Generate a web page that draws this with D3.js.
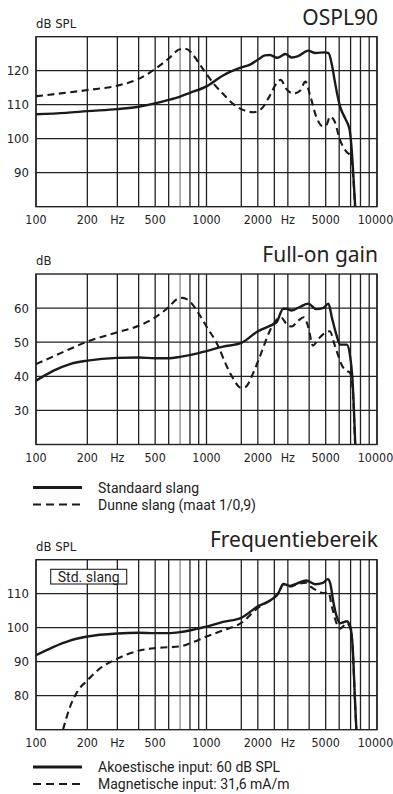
<!DOCTYPE html>
<html><head><meta charset="utf-8">
<script src="https://cdn.jsdelivr.net/npm/d3@7"></script>
<style>
html,body{margin:0;padding:0;background:#fff;}
svg{display:block;}
.tick{font-family:"Liberation Sans Narrow","Arial Narrow","DejaVu Sans Condensed",sans-serif;font-size:13px;fill:#222;}
.xt{font-size:12.4px;}
.title{font-family:"Noto Sans","Open Sans",sans-serif;font-size:21px;fill:#222;}
.leg{font-family:Roboto,"Noto Sans",sans-serif;font-size:14px;fill:#222;}
</style></head>
<body>
<svg id="c" width="393" height="794"></svg>
<script>
// ---- data ----
const xTickValues = [100,200,300,500,1000,2000,3000,5000,10000];
const xTickLabels = ["100","200","Hz","500","1000","2000","Hz","5000","10000"];
const extraGrid = [1600,2500];
const greyGrid = [700];

const osplTicks = [90,100,110,120];
const gainTicks = [30,40,50,60];
const freqTicks = [80,90,100,110];

const osplStd = [[100,107.2],[150,107.6],[200,108.1],[300,108.7],[400,109.4],[500,110.4],[600,111.4],[700,112.4],[800,113.5],[1000,115.4],[1250,118.6],[1570,120.8],[1800,121.8],[2000,123.2],[2200,124.5],[2350,124.6],[2600,123.8],[2900,124.9],[3150,123.9],[3450,124.3],[3950,125.9],[4350,125.2],[4950,125.4],[5200,125.2],[5450,121.5],[5650,117],[5850,113],[6070,109.5],[6500,106],[6900,102.8],[7100,97],[7250,90],[7430,81],[7520,76]];
const osplThin = [[100,112.5],[200,114.3],[300,115.6],[400,117.6],[500,120.5],[600,123.6],[700,126.3],[760,126.4],[820,125.2],[900,122.3],[1000,119],[1100,116.2],[1250,113.2],[1450,110],[1650,108.4],[1880,107.8],[2100,108.8],[2350,112.6],[2600,116.6],[2720,117.3],[2950,114.5],[3250,113.3],[3550,114.2],[3800,116.8],[4050,112.8],[4400,106.5],[4800,103.7],[5050,104],[5300,106.5],[5650,105],[6050,99.8],[6600,96.2],[7050,94.7],[7250,89],[7430,80],[7520,76]];

const gainStd = [[100,38.7],[126,41.6],[158,43.6],[200,44.6],[300,45.4],[400,45.5],[500,45.3],[600,45.3],[700,45.7],[900,46.8],[1000,47.4],[1250,48.7],[1600,49.8],[2000,53.2],[2350,54.8],[2570,55.8],[2820,59.8],[2950,59.8],[3160,59.3],[3540,60.4],[3950,61.3],[4400,59.7],[4820,60],[5190,61.3],[5450,57],[5800,51.9],[6070,49.3],[6650,49.3],[6950,46],[7160,40],[7300,32],[7430,22],[7500,17]];
const gainThin = [[100,43.6],[126,45.8],[158,48],[200,50.2],[300,52.9],[400,54.8],[500,57.3],[600,60.3],[670,62.6],[720,63],[760,62.7],[820,61.3],[900,58.4],[1000,54.6],[1170,48.9],[1310,43.1],[1440,39.2],[1580,36.7],[1680,36.8],[1880,41],[2100,47],[2350,53.3],[2600,56.8],[2750,57.2],[2950,55.3],[3160,54.6],[3450,56.3],[3720,57.3],[3950,54.5],[4210,49],[4530,50.9],[4820,52.3],[5280,53.2],[5660,49],[5930,46],[6240,43.1],[6640,41.6],[6950,41],[7200,36.3],[7430,21],[7500,17]];

const freqAcoustic = [[100,91.9],[126,94.3],[158,96.2],[200,97.4],[300,98.3],[400,98.5],[500,98.4],[600,98.4],[700,98.7],[900,99.8],[1000,100.3],[1250,101.7],[1600,102.9],[2000,106.3],[2460,108.6],[2640,110.2],[2820,112.9],[3090,112.3],[3360,112.9],[3850,113.9],[4330,112.8],[4820,113.2],[5150,114.3],[5320,113],[5550,107.5],[5800,103.3],[6070,101.3],[6350,101.6],[6640,101.9],[6950,100.5],[7200,94.3],[7430,78.6],[7600,68]];
const freqMagnetic = [[144,70],[158,76.6],[177,81.6],[200,84.5],[237,88],[300,90.9],[400,93.2],[500,94],[700,94.5],[800,95.4],[1000,97.4],[1250,99.2],[1600,101.4],[2000,105.8],[2460,108.6],[2640,110],[2820,112.7],[3090,112.1],[3360,112.7],[3850,113.2],[4100,112],[4400,111],[4820,110.2],[5190,110.4],[5450,106],[5800,101.2],[6070,99.7],[6350,100.5],[6640,101.4],[6950,100.2],[7200,94],[7430,78],[7600,68]];

// ---- drawing ----
const svg = d3.select("#c");
const x = d3.scaleLog().domain([100,10000]).range([36,377]);
const DASH = "7,4.5";

function chart(cfg){
  const g = svg.append("g");
  const y = d3.scaleLinear().domain(cfg.yDomain).range(cfg.yRange);
  const top = cfg.yRange[1], bot = cfg.yRange[0];
  const id = "clip"+cfg.id;
  svg.append("clipPath").attr("id",id).append("rect")
    .attr("x",36).attr("y",top).attr("width",341).attr("height",bot-top);
  const vg = x.ticks().concat(extraGrid);
  g.selectAll(".vg").data(vg).enter().append("line")
    .attr("x1",d=>x(d)).attr("x2",d=>x(d)).attr("y1",top).attr("y2",bot)
    .attr("stroke",d=>greyGrid.includes(d)?"#8a8a8a":"#222")
    .attr("stroke-width",1.3);
  g.selectAll(".hg").data(cfg.yTicks).enter().append("line")
    .attr("x1",36).attr("x2",377).attr("y1",d=>y(d)).attr("y2",d=>y(d))
    .attr("stroke","#222").attr("stroke-width",1.3);
  g.append("rect").attr("x",36).attr("y",top).attr("width",341).attr("height",bot-top)
    .attr("fill","none").attr("stroke","#222").attr("stroke-width",1.4);
  g.selectAll(".yl").data(cfg.yTicks).enter().append("text").attr("class","tick")
    .attr("x",29).attr("y",d=>y(d)).attr("dy","0.35em").attr("text-anchor","end").text(d=>d);
  g.selectAll(".xl").data(xTickValues).enter().append("text").attr("class","tick xt")
    .attr("x",(d,i)=>x(d)-(i===xTickValues.length-1?1.5:0)).attr("y",bot+17)
    .attr("text-anchor","middle").text((d,i)=>xTickLabels[i]);
  g.append("text").attr("class","tick").attr("x",36).attr("y",top-9).text(cfg.unit);
  g.append("text").attr("class","title").attr("x",378).attr("y",cfg.titleY)
    .attr("text-anchor","end").text(cfg.title);
  const line = d3.line().x(d=>x(d[0])).y(d=>y(d[1])).curve(d3.curveMonotoneX);
  const cg = g.append("g").attr("clip-path",`url(#${id})`);
  cg.append("path").attr("d",line(cfg.dashed)).attr("fill","none").attr("stroke","#1a1a1a")
    .attr("stroke-width",2.1).attr("stroke-dasharray",DASH);
  cg.append("path").attr("d",line(cfg.solid)).attr("fill","none").attr("stroke","#1a1a1a")
    .attr("stroke-width",2.4);
  if(cfg.legend){
    cfg.legend.forEach((t,i)=>{
      const ly = cfg.legendY + i*17;
      g.append("line").attr("x1",33).attr("x2",82).attr("y1",ly).attr("y2",ly)
        .attr("stroke","#1a1a1a").attr("stroke-width",i?2.2:2.8)
        .attr("stroke-dasharray",i?"8,5":null);
      g.append("text").attr("class","leg").attr("x",98).attr("y",ly+5).text(t);
    });
  }
  return {g,y};
}

chart({id:1,yDomain:[80,130],yRange:[206.7,36.7],yTicks:osplTicks,unit:"dB SPL",
  title:"OSPL90",titleY:25,solid:osplStd,dashed:osplThin});
chart({id:2,yDomain:[20,70],yRange:[444.5,274],yTicks:gainTicks,unit:"dB",
  title:"Full-on gain",titleY:262,solid:gainStd,dashed:gainThin,
  legend:["Standaard slang","Dunne slang (maat 1/0,9)"],legendY:487.5});
const c3 = chart({id:3,yDomain:[70,120],yRange:[729.7,559.7],yTicks:freqTicks,unit:"dB SPL",
  title:"Frequentiebereik",titleY:547,solid:freqAcoustic,dashed:freqMagnetic,
  legend:["Akoestische input: 60 dB SPL","Magnetische input: 31,6 mA/m"],legendY:767});
c3.g.append("rect").attr("x",50.7).attr("y",569.3).attr("width",76).attr("height",14.7)
  .attr("fill","#fff").attr("stroke","#222").attr("stroke-width",1.1);
c3.g.append("text").attr("class","leg").attr("x",88.7).attr("y",581.5).attr("text-anchor","middle").text("Std. slang");
</script>
</body></html>
